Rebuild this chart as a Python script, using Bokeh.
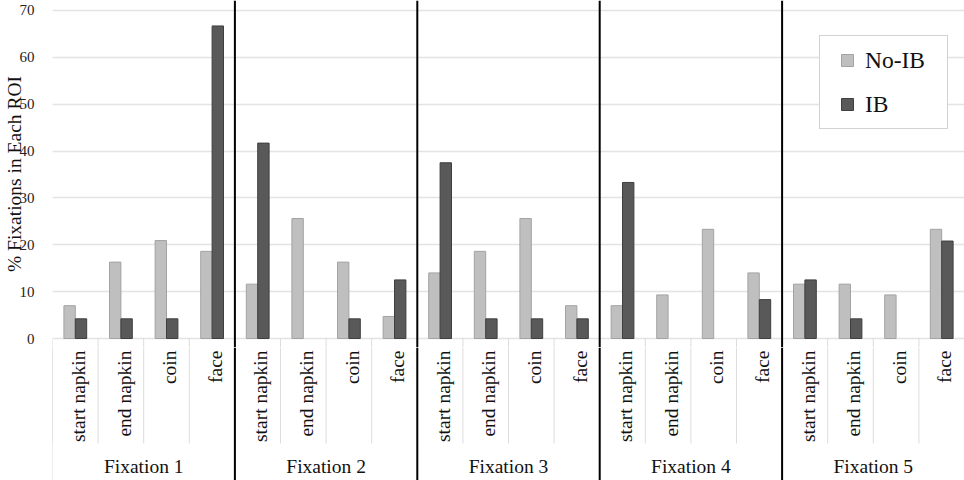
from math import pi
from bokeh.plotting import figure
from bokeh.models import (FactorRange, Range1d, ColumnDataSource, FixedTicker,
                          CDSView, BooleanFilter, Legend, LegendItem)
from bokeh.transform import dodge
from bokeh.layouts import column
from bokeh.core.properties import value
from bokeh.embed import file_html
from bokeh.resources import INLINE

# ---------------- data ----------------
groups = ["Fixation 1", "Fixation 2", "Fixation 3", "Fixation 4", "Fixation 5"]
categories = ["start napkin", "end napkin", "coin", "face"]
no_ib = [7.0, 16.3, 20.9, 18.6,
         11.6, 25.6, 16.3, 4.7,
         14.0, 18.6, 25.6, 7.0,
         7.0, 9.3, 23.3, 14.0,
         11.6, 11.6, 9.3, 23.3]
ib = [4.2, 4.2, 4.2, 66.7,
      41.7, 0.0, 4.2, 12.5,
      37.5, 4.2, 4.2, 4.2,
      33.3, 0.0, 0.0, 8.3,
      12.5, 4.2, 0.0, 20.8]
y_ticks = [0, 10, 20, 30, 40, 50, 60, 70]
series_names = ["No-IB", "IB"]
y_title = "% Fixations in Each ROI"

# ---------------- styling ----------------
FONT = "Liberation Serif"
LIGHT, LIGHT_EDGE = "#bfbfbf", "#a3a3a3"
DARK, DARK_EDGE = "#595959", "#3f3f3f"
SEP = "#dcdcdc"
TXT = "#111111"

factors = [(g, c) for g in groups for c in categories]
x_range = FactorRange(*factors, group_padding=0, factor_padding=0, range_padding=0)

src = ColumnDataSource(dict(x=factors, noib=no_ib, ib=ib,
                            cat=[c for g in groups for c in categories]))

W = 964
BORDER_L = 52
Y0, Y1 = -1.92, 72.13
H1 = 347

# ---------------- main plot ----------------
p1 = figure(width=W, height=H1, x_range=x_range, y_range=Range1d(Y0, Y1),
            output_backend="svg", toolbar_location=None,
            min_border_left=BORDER_L, min_border_right=0,
            min_border_top=0, min_border_bottom=0)
p1.outline_line_color = None

view_noib = CDSView(filter=BooleanFilter([v > 0 for v in no_ib]))
view_ib = CDSView(filter=BooleanFilter([v > 0 for v in ib]))
p1.vbar(x=dodge("x", -0.125, range=x_range), top="noib", width=0.25, bottom=0,
        source=src, view=view_noib, fill_color=LIGHT, line_color=LIGHT_EDGE, line_width=1)
p1.vbar(x=dodge("x", 0.125, range=x_range), top="ib", width=0.25, bottom=0,
        source=src, view=view_ib, fill_color=DARK, line_color=DARK_EDGE, line_width=1)

p1.xaxis.visible = False
p1.xgrid.visible = False
yax = p1.yaxis[0]
yax.ticker = FixedTicker(ticks=y_ticks)
yax.axis_line_color = None
yax.major_tick_line_color = None
yax.minor_tick_line_color = None
yax.major_label_text_font = FONT
yax.major_label_text_font_size = "15px"
yax.major_label_text_color = "#222222"
yax.major_label_standoff = 12
yax.axis_label = y_title
yax.axis_label_text_font = FONT
yax.axis_label_text_font_size = "19.5px"
yax.axis_label_text_font_style = "normal"
yax.axis_label_text_color = TXT
yax.axis_label_standoff = -8
p1.ygrid.grid_line_color = "#e3e3e3"
p1.ygrid.grid_line_width = 1.3

# short separator stubs below the zero line (continue into the label area)
p1.segment(x0=dodge("x", -0.5, range=x_range), x1=dodge("x", -0.5, range=x_range),
           y0=Y0, y1=0, source=src, line_color=SEP, line_width=1)

# group dividers (black)
last_of_group = [(g, categories[-1]) for g in groups[:-1]]
div_src = ColumnDataSource(dict(x=last_of_group))
p1.segment(x0=dodge("x", 0.5, range=x_range), x1=dodge("x", 0.5, range=x_range),
           y0=Y0, y1=Y1, source=div_src, line_color="black", line_width=2)

# legend swatches: hidden square-marker renderers
r_light = p1.scatter(x=dodge("x", -0.125, range=x_range), y="noib", source=src,
                     marker="square", fill_color=LIGHT, line_color=LIGHT_EDGE, visible=False)
r_dark = p1.scatter(x=dodge("x", 0.125, range=x_range), y="ib", source=src,
                    marker="square", fill_color=DARK, line_color=DARK_EDGE, visible=False)
lg = Legend(items=[LegendItem(label=series_names[0], renderers=[r_light]),
                   LegendItem(label=series_names[1], renderers=[r_dark])],
            location=(767, H1 - 129))
lg.border_line_color = "#a6a6a6"
lg.border_line_width = 1
lg.background_fill_color = "white"
lg.background_fill_alpha = 1
lg.inactive_fill_alpha = 0
lg.label_text_font = FONT
lg.label_text_font_size = "23.5px"
lg.label_text_color = TXT
lg.glyph_width = 36
lg.glyph_height = 30
lg.label_standoff = 0
lg.label_width = 73
lg.label_height = 26
lg.spacing = 14
lg.padding = 9
lg.margin = 0
p1.add_layout(lg, "center")

# ---------------- category axis area ----------------
H2 = 480 - H1
p2 = figure(width=W, height=H2, x_range=x_range, y_range=Range1d(0, H2),
            output_backend="svg", toolbar_location=None,
            min_border_left=BORDER_L, min_border_right=0,
            min_border_top=0, min_border_bottom=0)
p2.outline_line_color = None
p2.axis.visible = False
p2.grid.visible = False

# category separators
p2.segment(x0=dodge("x", -0.5, range=x_range), x1=dodge("x", -0.5, range=x_range),
           y0=37, y1=H2, source=src, line_color=SEP, line_width=1)
# group separators (full height)
first_of_group = [(g, categories[0]) for g in groups]
gsrc = ColumnDataSource(dict(x=first_of_group))
p2.segment(x0=dodge("x", -0.5, range=x_range), x1=dodge("x", -0.5, range=x_range),
           y0=0, y1=H2, source=gsrc, line_color=SEP, line_width=1)
# black group dividers
p2.segment(x0=dodge("x", 0.5, range=x_range), x1=dodge("x", 0.5, range=x_range),
           y0=0, y1=H2, source=div_src, line_color="black", line_width=2)

# category labels
p2.text(x=dodge("x", 0.07, range=x_range), y=H2 - 3, text="cat", source=src, angle=pi / 2,
        text_align="right", text_baseline="middle",
        text_font=value(FONT), text_font_size="19.5px", text_color=TXT)
# group labels
glsrc = ColumnDataSource(dict(x=[(g, categories[1]) for g in groups], label=groups))
p2.text(x=dodge("x", 0.5, range=x_range), y=14, text="label", source=glsrc,
        text_align="center", text_baseline="middle",
        text_font=value(FONT), text_font_size="19.5px", text_color=TXT)

layout = column(p1, p2, spacing=0)
open("out.html", "w").write(file_html(layout, INLINE))
